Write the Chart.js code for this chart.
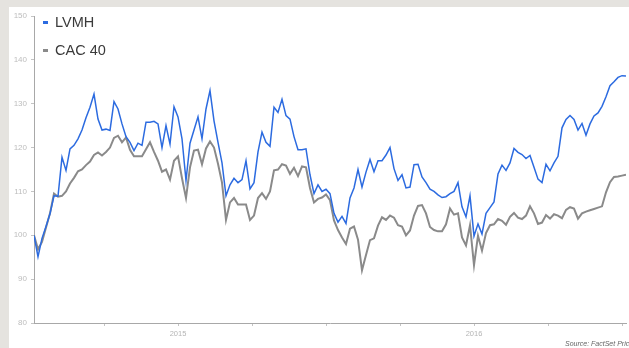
<!DOCTYPE html>
<html>
<head>
<meta charset="utf-8">
<script src="https://cdn.jsdelivr.net/npm/chart.js@4.4.1/dist/chart.umd.min.js"></script>
<style>
  html, body { margin: 0; padding: 0; }
  body { width: 629px; height: 348px; background: #e5e3df; position: relative; overflow: hidden; }
  #panel { position: absolute; left: 9px; top: 7px; right: 0; bottom: 0; background: #fff; }
  #chart { position: absolute; left: 0; top: 0; }
</style>
</head>
<body>
<div id="panel"></div>
<canvas id="chart" width="629" height="348"></canvas>
<script>
// rebased to 100, two years of prices sampled evenly
const startYear = 2014.5135;
const spanYears = 2;

const lvmh = [
  100, 95.1, 99.3, 102, 104.9, 109, 108.9, 117.8, 114.8, 119.7,
  120.5, 122, 124, 126.8, 129.2, 132.2, 126.5, 124, 124.2, 123.9,
  130.5, 128.8, 125.4, 122.5, 121.2, 119.3, 121, 120.5, 125.8, 125.8,
  126, 125.4, 120, 125, 120.8, 129.3, 127, 122, 112.5, 121,
  124, 127, 122, 128.8, 133, 126.1, 121.2, 116.5, 109, 111.5,
  113, 112, 112.7, 117, 110.6, 112, 119, 123.5, 121.2, 120.3,
  129.2, 128, 131, 127.3, 126.5, 122.5, 119.5, 119.5, 119.7, 113.8,
  109.5, 111.5, 110, 110.5, 109.5, 105, 103, 104.3, 102.7, 108.5,
  110.8, 115, 111, 114.4, 117.3, 114.5, 117, 117, 118.3, 120,
  115.2, 112.5, 113.8, 110.8, 111, 116.1, 116.2, 113.3, 112, 110.5,
  110, 109.2, 108.6, 108.8, 109.5, 110, 112, 106.5, 104.2, 109,
  99.8, 102.6, 100.3, 105, 106.3, 107.6, 114, 116, 114.8, 116.5,
  119.8, 118.9, 118.4, 117.5, 118.2, 115.5, 112.8, 112, 116.2, 114.7,
  116.5, 118, 124.5, 126.4, 127.3, 126.4, 124, 125.5, 122.8, 125.4,
  127.2, 127.9, 129.4, 131.6, 134.1, 135, 136, 136.4, 136.3
];

const cac40 = [
  100, 96.8, 98.5, 101.8, 105, 109.5, 108.8, 109, 110, 111.8,
  113.1, 114.6, 115, 116, 116.8, 118.3, 118.9, 118.2, 119, 120,
  122.2, 122.7, 121.2, 122.3, 119.5, 118, 118, 118, 119.6, 121.2,
  119, 117, 114.5, 115, 112.7, 117, 118, 113, 108.5, 115.5,
  119.3, 119.5, 116.2, 119.8, 121.4, 120, 116.3, 112, 103.5, 107.5,
  108.5, 107, 107, 107, 103.5, 104.5, 108.5, 109.6, 108.3, 110,
  114.8, 115, 116.2, 115.9, 114, 115.4, 113.5, 115.7, 115.5, 110.8,
  107.5, 108.3, 108.6, 109.3, 108, 103.4, 101.2, 99.5, 98, 101.5,
  102, 99, 92, 95.5, 98.9, 99.3, 102.2, 104.1, 103.5, 104.5,
  104, 102.3, 102, 100, 101.1, 104.5, 106.7, 106.9, 105, 101.9,
  101.2, 100.9, 100.9, 102.5, 106.1, 104.7, 105, 99.5, 97.7, 102.3,
  93.2, 99.9, 96.5, 100.5, 102.3, 102.5, 103.7, 103.3, 102.4, 104.2,
  105.1, 104, 103.7, 104.5, 106.6, 105, 102.6, 102.9, 104.6, 103.8,
  104.8, 104.5, 103.9, 105.8, 106.4, 106.1, 103.8, 105, 105.4, 105.7,
  106, 106.3, 106.6, 109.8, 112.1, 113.3, 113.4, 113.6, 113.8
];

const seriesNames = ["LVMH", "CAC 40"];
const yTicks = [80, 90, 100, 110, 120, 130, 140, 150];
const quarterTicks = [2014.75, 2015, 2015.25, 2015.5, 2015.75, 2016, 2016.25, 2016.5];
const yearLabels = { 2015: "2015", 2016: "2016" };
const sourceNote = "Source: FactSet Prices";

const step = spanYears / (lvmh.length - 1);
const toPoints = arr => arr.map((v, i) => ({ x: startYear + i * step, y: v }));

// legend stacked in the top-left of the plot, short dash markers
const stackedLegend = {
  id: "stackedLegend",
  afterDraw(chart) {
    const c = chart.ctx;
    const a = chart.chartArea;
    c.save();
    chart.data.datasets.forEach((ds, i) => {
      const y = a.top + 6 + i * 28;
      c.fillStyle = ds.borderColor;
      c.fillRect(a.left + 9, y - 1, 5, 3);
      c.fillStyle = "#3a3a3a";
      c.font = "14.5px 'Liberation Sans', Arial, sans-serif";
      c.textBaseline = "middle";
      c.fillText(ds.label, a.left + 21, y + 0.5);
    });
    c.fillStyle = "#666";
    c.font = "italic 7px 'Liberation Sans', Arial, sans-serif";
    c.textBaseline = "alphabetic";
    c.fillText(sourceNote, 565, 346);
    c.restore();
  }
};

new Chart(document.getElementById("chart"), {
  type: "line",
  data: {
    datasets: [
      {
        label: seriesNames[0],
        data: toPoints(lvmh),
        borderColor: "#2c6be0",
        borderWidth: 1.5,
        pointRadius: 0,
        tension: 0,
      },
      {
        label: seriesNames[1],
        data: toPoints(cac40),
        borderColor: "#8a8a8a",
        borderWidth: 2,
        pointRadius: 0,
        tension: 0,
      },
    ],
  },
  options: {
    responsive: false,
    animation: false,
    layout: { padding: { left: 0, top: 16, right: 3, bottom: 0 } },
    plugins: {
      legend: { display: false },
      tooltip: { enabled: false },
    },
    scales: {
      x: {
        type: "linear",
        min: startYear,
        max: startYear + spanYears,
        afterBuildTicks: s => { s.ticks = quarterTicks.map(v => ({ value: v })); },
        afterFit: s => { s.height = 25; },
        ticks: {
          autoSkip: false,
          maxRotation: 0,
          padding: 3,
          color: "#b5b5b5",
          font: { family: "'Liberation Sans', Arial, sans-serif", size: 7.5 },
          callback: v => yearLabels[v] || "",
        },
        grid: { drawOnChartArea: false, tickLength: 3, color: "#c4c4c4" },
        border: { color: "#a8a8a8" },
      },
      y: {
        min: 80,
        max: 150,
        afterBuildTicks: s => { s.ticks = yTicks.map(v => ({ value: v })); },
        afterFit: s => { s.width = 34; },
        ticks: {
          padding: 4,
          color: "#bdbdbd",
          font: { family: "'Liberation Sans', Arial, sans-serif", size: 8 },
        },
        grid: { drawOnChartArea: false, tickLength: 3, color: "#c4c4c4" },
        border: { color: "#a8a8a8" },
      },
    },
  },
  plugins: [stackedLegend],
});
</script>
</body>
</html>
